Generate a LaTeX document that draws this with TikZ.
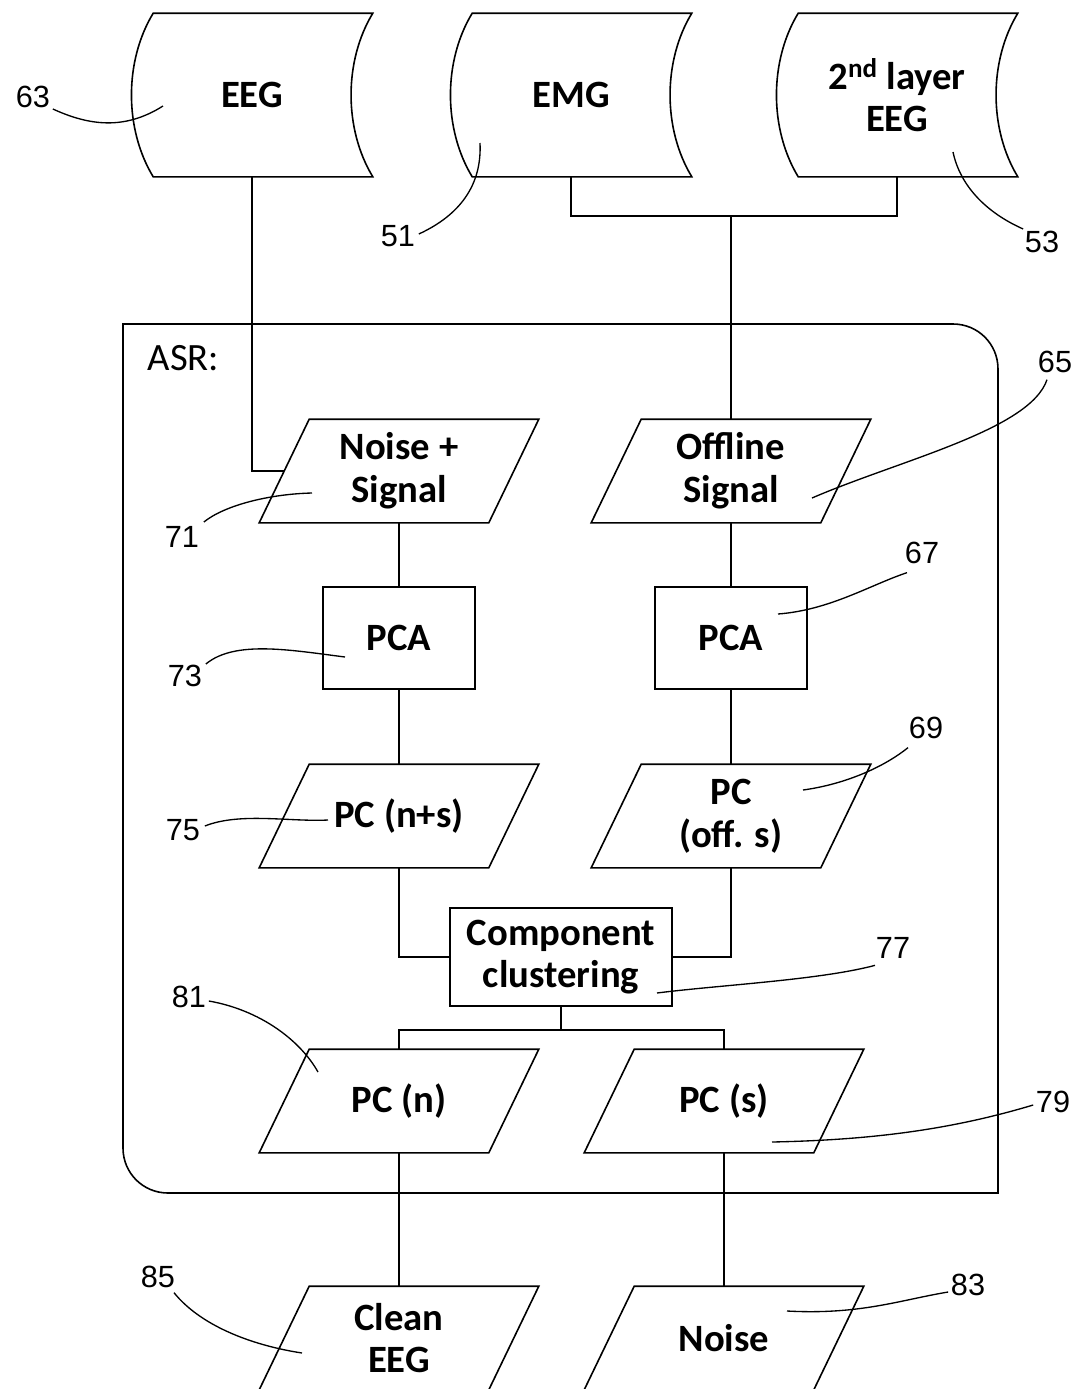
\documentclass[tikz,border=0pt]{standalone}
\usepackage{fontspec}
\setmainfont{Carlito}
\newfontfamily\numfont{Liberation Sans}
\usetikzlibrary{calc}
\begin{document}
\begin{tikzpicture}[x=0.75pt,y=-0.75pt,line width=1.2pt,
  txt/.style={font=\fontsize{29}{32}\selectfont\bfseries,align=center,inner sep=0pt},
  stored/.style={txt,minimum width=218*0.75pt,minimum height=162*0.75pt},
  para/.style={txt,minimum width=228*0.75pt,minimum height=102*0.75pt},
  procbox/.style={txt,draw,minimum width=152*0.75pt,minimum height=102*0.75pt},
  num/.style={font=\numfont\fontsize{23}{26}\selectfont,inner sep=0pt},
  leader/.style={line width=1pt}]
\useasboundingbox (0,0) rectangle (1081,1389);

% ASR container
\draw (123,324) -- (953,324) .. controls (978,324) and (998,344) .. (998,369) -- (998,1193)
  -- (168,1193) .. controls (143,1193) and (123,1173) .. (123,1148) -- cycle;
\node[font=\fontsize{29}{32}\selectfont,inner sep=0pt,anchor=west] (asr) at (147,358) {ASR:};

% stored data shapes
\node[stored] (eeg) at (252,95) {EEG};
\node[stored] (emg) at (571,95) {EMG};
\node[stored] (l2) at (897,95) {2\textsuperscript{nd} layer\\EEG};
\foreach \n in {eeg,emg,l2}{
  \draw ($(\n.north west)+(11,0)$) -- ($(\n.north east)+(11,0)$)
    .. controls ($(\n.east)+(-18,-34)$) and ($(\n.east)+(-18,34)$) .. ($(\n.south east)+(11,0)$)
    -- ($(\n.south west)+(11,0)$)
    .. controls ($(\n.west)+(-18,34)$) and ($(\n.west)+(-18,-34)$) .. ($(\n.north west)+(11,0)$) -- cycle;
}

% parallelograms
\node[para] (ns) at (399,471) {Noise +\\Signal};
\node[para] (os) at (731,471) {Offline\\Signal};
\node[para] (pcns) at (399,816) {PC (n+s)};
\node[para] (pcos) at (731,816) {PC\\(off. s)};
\node[para] (pcn) at (399,1101) {PC (n)};
\node[para] (pcs) at (724,1101) {PC (s)};
\node[para] (clean) at (399,1338) {Clean\\EEG};
\node[para] (noise) at (724,1338) {Noise};
\foreach \n in {ns,os,pcns,pcos,pcn,pcs,clean,noise}{
  \draw ($(\n.north west)+(25,0)$) -- ($(\n.north east)+(25,0)$)
    -- ($(\n.south east)+(-25,0)$) -- ($(\n.south west)+(-25,0)$) -- cycle;
}

% process boxes
\node[procbox] (pca1) at (399,638) {PCA};
\node[procbox] (pca2) at (731,638) {PCA};
\node[procbox,minimum width=222*0.75pt,minimum height=98*0.75pt] (cc) at (561,957) {Component\\clustering};

% connectors
\coordinate (j) at (731,216);
\coordinate (k) at (561,1030);
\draw (eeg.south) |- (ns.west);
\draw (emg.south) |- (j) -| (l2.south);
\draw (j) -- (os.north);
\draw (ns.south) -- (pca1.north);
\draw (pca1.south) -- (pcns.north);
\draw (os.south) -- (pca2.north);
\draw (pca2.south) -- (pcos.north);
\draw (pcns.south) |- (cc.west);
\draw (pcos.south) |- (cc.east);
\draw (cc.south) -- (k);
\draw (pcn.north) |- (k) -| (pcs.north);
\draw (pcn.south) -- (clean.north);
\draw (pcs.south) -- (noise.north);

% reference numerals
\node[num] (n63) at (33,97) {63};
\node[num] (n51) at (398,236) {51};
\node[num] (n53) at (1042,242) {53};
\node[num] (n65) at (1055,362) {65};
\node[num] (n71) at (182,537) {71};
\node[num] (n67) at (922,553) {67};
\node[num] (n73) at (185,676) {73};
\node[num] (n69) at (926,728) {69};
\node[num] (n75) at (183,830) {75};
\node[num] (n77) at (893,948) {77};
\node[num] (n81) at (189,997) {81};
\node[num] (n79) at (1053,1102) {79};
\node[num] (n85) at (158,1277) {85};
\node[num] (n83) at (968,1285) {83};

\coordinate (c63) at (163,106);
\coordinate (c51) at (480,143);
\coordinate (c53) at (953,152);
\coordinate (c65) at (812,498);
\coordinate (c71) at (312,493);
\coordinate (c67) at (778,614);
\coordinate (c73) at (345,657);
\coordinate (c69) at (803,790);
\coordinate (c75) at (328,820);
\coordinate (c77) at (657,993);
\coordinate (c81) at (318,1072);
\coordinate (c79) at (772,1142);
\coordinate (c85) at (302,1353);
\coordinate (c83) at (787,1311);

\draw[leader] ($(n63.east)+(2,12)$) .. controls (90,126) and (125,130) .. (c63);
\draw[leader] ($(n51.east)+(3,-2)$) .. controls (460,215) and (482,185) .. (c51);
\draw[leader] ($(n53.west)+(-1,-13)$) .. controls (985,212) and (960,185) .. (c53);
\draw[leader] ($(n65.south)+(-8,6)$) .. controls (1030,430) and (900,460) .. (c65);
\draw[leader] ($(n71.east)+(4,-15)$) .. controls (225,505) and (270,494) .. (c71);
\draw[leader] ($(n67.south)+(-15,8)$) .. controls (870,585) and (830,610) .. (c67);
\draw[leader] ($(n73.east)+(3,-12)$) .. controls (235,640) and (290,650) .. (c73);
\draw[leader] ($(n69.south)+(-18,8)$) .. controls (880,770) and (840,785) .. (c69);
\draw[leader] ($(n75.east)+(4,-4)$) .. controls (240,812) and (290,822) .. (c75);
\draw[leader] ($(n77.south)+(-18,6)$) .. controls (820,980) and (720,985) .. (c77);
\draw[leader] ($(n81.east)+(2,4)$) .. controls (260,1010) and (300,1040) .. (c81);
\draw[leader] ($(n79.west)+(-2,3)$) .. controls (950,1130) and (870,1140) .. (c79);
\draw[leader] ($(n85.south)+(16,4)$) .. controls (200,1325) and (250,1345) .. (c85);
\draw[leader] ($(n83.west)+(-2,7)$) .. controls (900,1300) and (860,1315) .. (c83);
\end{tikzpicture}
\end{document}
